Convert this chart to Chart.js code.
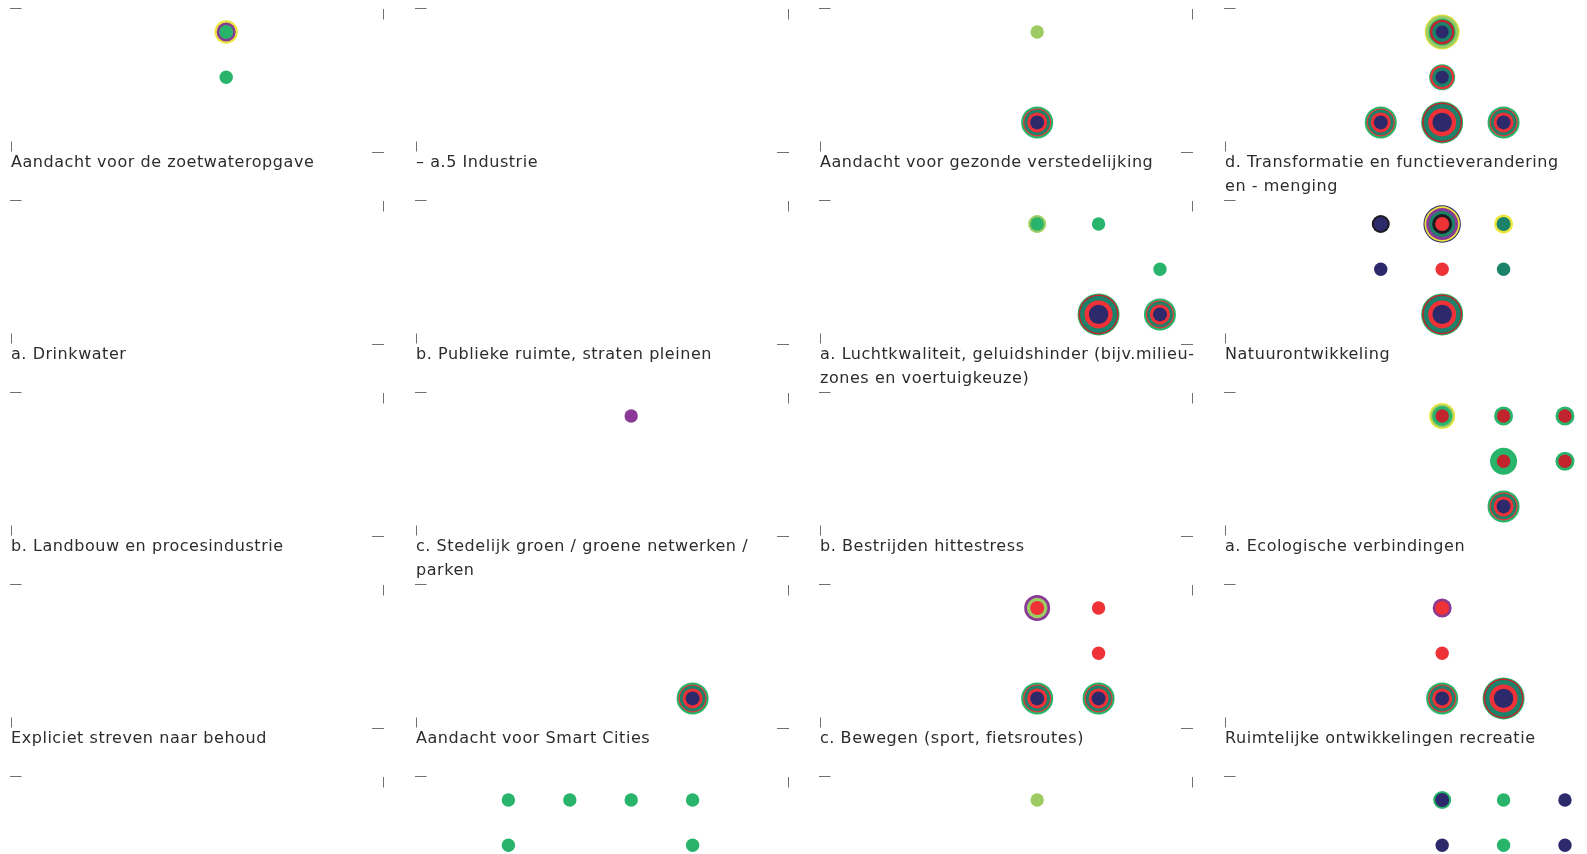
<!DOCTYPE html>
<html>
<head>
<meta charset="utf-8">
<script src="https://cdn.jsdelivr.net/npm/chart.js@4/dist/chart.umd.min.js"></script>
<style>
  html, body { margin: 0; padding: 0; background: #fff; overflow: hidden; }
  #wrap { position: relative; width: 1586px; height: 854px; overflow: hidden; }
  .panel { position: absolute; width: 405px; height: 192px; }
  .panel canvas { position: absolute; left: 0; top: 0; }
  .title {
    position: absolute; left: 11px; top: 150px; width: 390px;
    font-family: "DejaVu Sans", sans-serif; font-size: 16px; line-height: 24px;
    letter-spacing: 0.55px; color: #2c2c2c; white-space: pre; pointer-events: none;
  }
</style>
</head>
<body>
<div id="wrap"></div>
<script>
// panel titles, row by row (bottom row titles fall outside the picture)
const titles = [
  'Aandacht voor de zoetwateropgave', '– a.5 Industrie', 'Aandacht voor gezonde verstedelijking', 'd. Transformatie en functieverandering\nen - menging',
  'a. Drinkwater', 'b. Publieke ruimte, straten pleinen', 'a. Luchtkwaliteit, geluidshinder (bijv.milieu-\nzones en voertuigkeuze)', 'Natuurontwikkeling',
  'b. Landbouw en procesindustrie', 'c. Stedelijk groen / groene netwerken /\nparken', 'b. Bestrijden hittestress', 'a. Ecologische verbindingen',
  'Expliciet streven naar behoud', 'Aandacht voor Smart Cities', 'c. Bewegen (sport, fietsroutes)', 'Ruimtelijke ontwikkelingen recreatie',
  '', '', '', ''
];

const colors = {
  G: '#28b46b', L: '#9dcd62', Y: '#ebe63c', P: '#8a3a96', N: '#2d2a6b',
  R: '#ee3237', D: '#c1242c', T: '#1c8269', K: '#1d1b20'
};

// rings of a dot, outside to inside: [colour, radius]
const BIG = [['G', 21], ['D', 20], ['T', 18.5], ['R', 14], ['N', 9.7]];
const MID = [['G', 16], ['R', 14], ['T', 12.8], ['R', 10], ['N', 7]];
const G = [['G', 6.7]], L = [['L', 6.7]], N = [['N', 6.7]], R = [['R', 6.7]];

// dots per panel: [column, row, rings]
const dotsRow0 = [
  [[3, 0, [['Y', 11.7], ['P', 9.5], ['G', 7]]], [3, 1, G]],
  [],
  [[3, 0, L], [3, 2, MID]],
  [[3, 0, [['Y', 17.5], ['L', 16.5], ['G', 13.5], ['D', 12.3], ['T', 10], ['N', 6.5]]],
   [3, 1, [['G', 13], ['R', 12], ['T', 10], ['N', 6.5]]], [2, 2, MID], [3, 2, BIG], [4, 2, MID]]
];
const dotsRow1 = [
  [],
  [],
  [[3, 0, [['L', 9], ['G', 6.7]]], [4, 0, G], [5, 1, G], [4, 2, BIG], [5, 2, MID]],
  [[2, 0, [['K', 9], ['N', 7]]],
   [3, 0, [['N', 18.7], ['Y', 17.7], ['P', 16], ['T', 13], ['K', 10], ['R', 7]]],
   [4, 0, [['Y', 9.5], ['T', 7]]], [2, 1, N], [3, 1, R], [4, 1, [['T', 6.7]]], [3, 2, BIG]]
];
const dotsRow2 = [
  [],
  [[3, 0, [['P', 6.7]]]],
  [],
  [[3, 0, [['Y', 13], ['L', 11.5], ['G', 10], ['D', 6.7]]], [4, 0, [['G', 9.5], ['D', 6.7]]],
   [5, 0, [['G', 9.5], ['D', 6.7]]], [4, 1, [['G', 13.5], ['D', 6.7]]], [5, 1, [['G', 9.5], ['D', 6.7]]], [4, 2, MID]]
];
const dotsRow3 = [
  [],
  [[4, 2, MID]],
  [[3, 0, [['P', 13], ['L', 10.3], ['R', 7]]], [4, 0, R], [4, 1, R], [3, 2, MID], [4, 2, MID]],
  [[3, 0, [['P', 9.5], ['R', 7]]], [3, 1, R], [3, 2, MID], [4, 2, BIG]]
];
const dotsRow4 = [
  [],
  [[1, 0, G], [2, 0, G], [3, 0, G], [4, 0, G], [1, 1, G], [4, 1, G]],
  [[3, 0, L]],
  [[3, 0, [['G', 9], ['N', 7]]], [4, 0, G], [5, 0, N], [3, 1, N], [4, 1, G], [5, 1, N]]
];
const allDots = [...dotsRow0, ...dotsRow1, ...dotsRow2, ...dotsRow3, ...dotsRow4];

const panelLeft = [0, 405, 809, 1214];
const panelTop = [0, 192, 384, 576, 768];
const xMin = [-0.684, -0.684, -0.716, -0.716];

// small corner marks round each panel
const cornerMarks = {
  id: 'cornerMarks',
  afterDraw(chart) {
    const c = chart.ctx;
    c.save();
    c.strokeStyle = '#707070';
    c.lineWidth = 1;
    c.beginPath();
    c.moveTo(10, 8.5); c.lineTo(21.5, 8.5);
    c.moveTo(383.5, 9); c.lineTo(383.5, 19.5);
    c.moveTo(11.5, 141.5); c.lineTo(11.5, 151.5);
    c.moveTo(372, 152.5); c.lineTo(384, 152.5);
    c.stroke();
    c.restore();
  }
};

const wrap = document.getElementById('wrap');

allDots.forEach((dots, i) => {
  const row = Math.floor(i / 4), col = i % 4;
  const panel = document.createElement('div');
  panel.className = 'panel';
  panel.style.left = panelLeft[col] + 'px';
  panel.style.top = panelTop[row] + 'px';
  const canvas = document.createElement('canvas');
  canvas.width = 405;
  canvas.height = 192;
  panel.appendChild(canvas);
  wrap.appendChild(panel);

  const points = [];
  const fills = [];
  dots.forEach(([x, y, rings]) => {
    rings.forEach(([code, r]) => {
      points.push({ x: x, y: y, r: r });
      fills.push(colors[code]);
    });
  });

  new Chart(canvas, {
    type: 'bubble',
    data: {
      datasets: [{
        data: points,
        backgroundColor: fills,
        borderWidth: 0,
        hoverBorderWidth: 0,
        hoverRadius: 0,
        clip: false
      }]
    },
    options: {
      responsive: false,
      animation: false,
      events: [],
      layout: { padding: 0, autoPadding: false },
      plugins: { legend: { display: false }, tooltip: { enabled: false } },
      scales: {
        x: { type: 'linear', display: false, min: xMin[col], max: xMin[col] + 6.596 },
        y: { type: 'linear', display: false, reverse: true, min: -0.708, max: 3.54 }
      }
    },
    plugins: [cornerMarks]
  });
});

// titles on top of all panels
titles.forEach((t, i) => {
  if (!t) return;
  const row = Math.floor(i / 4), col = i % 4;
  const div = document.createElement('div');
  div.className = 'title';
  div.style.left = (panelLeft[col] + 11) + 'px';
  div.style.top = (panelTop[row] + 150) + 'px';
  div.textContent = t;
  wrap.appendChild(div);
});
</script>
</body>
</html>
